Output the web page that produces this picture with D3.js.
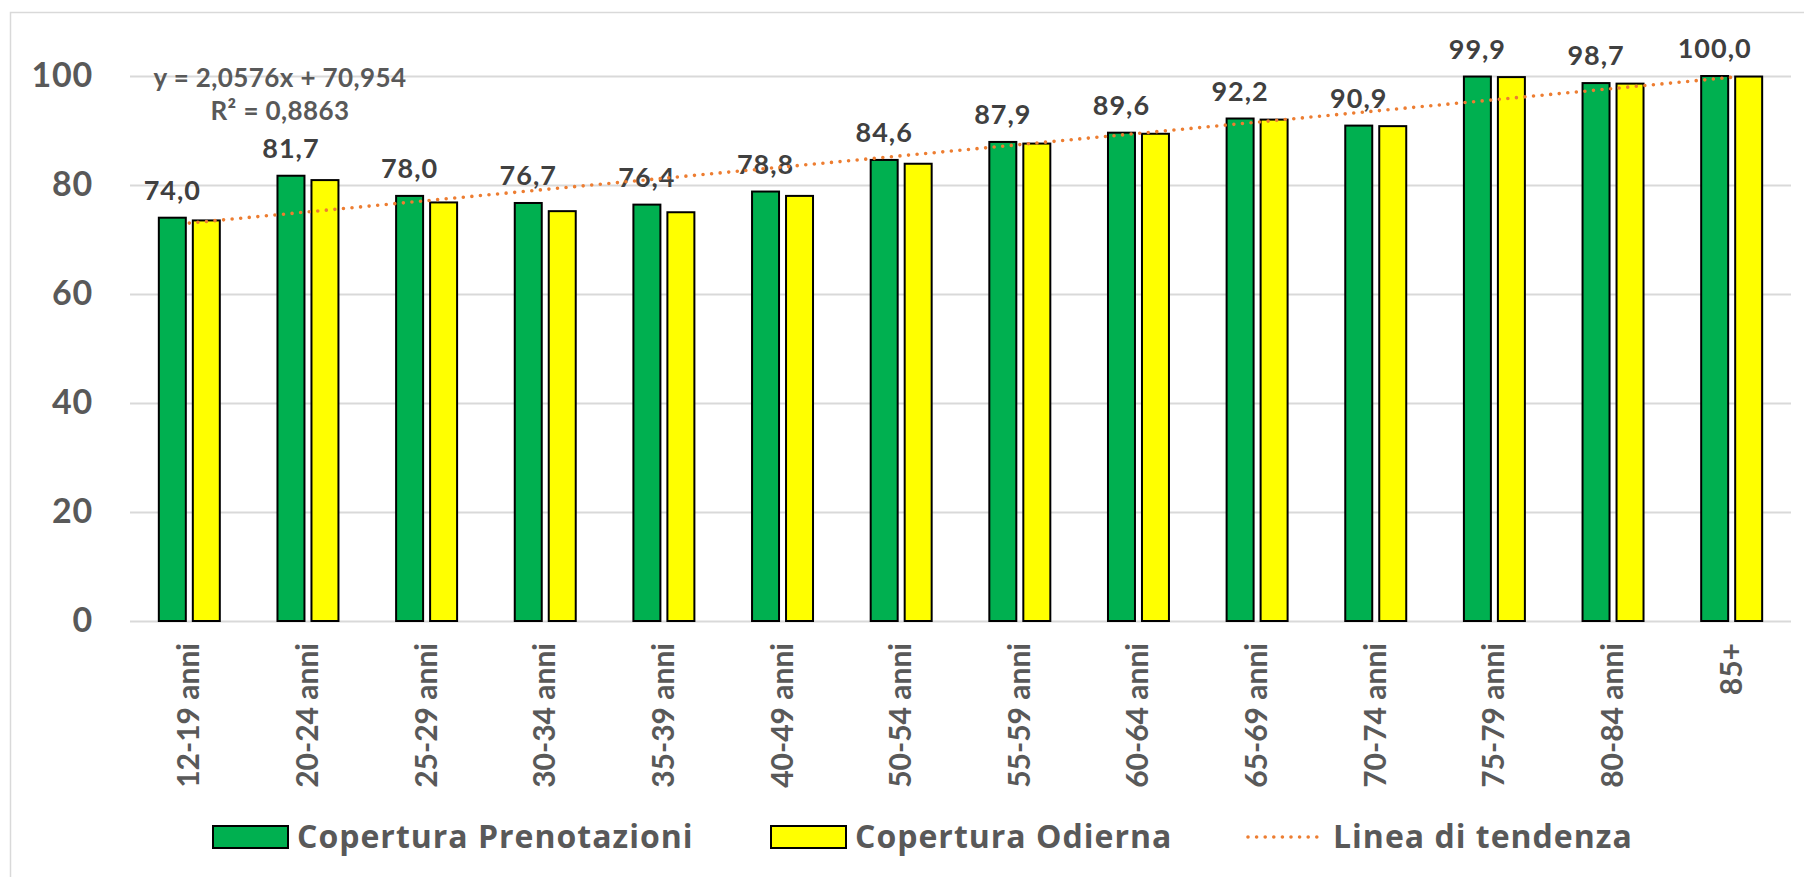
<!DOCTYPE html>
<html>
<head>
<meta charset="utf-8">
<script src="https://cdn.jsdelivr.net/npm/d3@7"></script>
<style>
  html, body { margin: 0; padding: 0; background: #fff; }
  svg { display: block; font-family: Lato, "Open Sans", sans-serif; }
</style>
</head>
<body>
<svg id="chart" width="1804" height="877"></svg>
<script>
// Age groups
const categories = ["12-19 anni", "20-24 anni", "25-29 anni", "30-34 anni", "35-39 anni",
  "40-49 anni", "50-54 anni", "55-59 anni", "60-64 anni", "65-69 anni",
  "70-74 anni", "75-79 anni", "80-84 anni", "85+"];

// Coverage (%) by age group
const prenotazioni = [74.0, 81.7, 78.0, 76.7, 76.4, 78.8, 84.6, 87.9, 89.6, 92.2, 90.9, 99.9, 98.7, 100.0];
const odierna      = [73.5, 80.9, 76.8, 75.2, 75.0, 78.0, 83.9, 87.6, 89.4, 92.0, 90.8, 99.8, 98.6, 99.9];

const seriesNames = ["Copertura Prenotazioni", "Copertura Odierna"];
const seriesColors = ["#00B050", "#FFFF00"];

// Linear trend fitted on the bookings series (x = 1..14)
const trendSlope = 2.0576;
const trendIntercept = 70.954;
const trendR2 = 0.8863;
const trendName = "Linea di tendenza";

const yTicks = [0, 20, 40, 60, 80, 100];

const fmt = v => d3.format(".1f")(v).replace(".", ",");
const fmtN = (v, d) => v.toFixed(d).replace(".", ",");

const svg = d3.select("#chart");
const plotLeft = 130, plotRight = 1791, plotTop = 76, plotBottom = 621;

// chart frame
svg.append("rect")
  .attr("x", 10.5).attr("y", 12.5)
  .attr("width", 1820).attr("height", 900)
  .attr("fill", "none").attr("stroke", "#d9d9d9").attr("stroke-width", 1.5);

const x0 = d3.scaleBand().domain(categories).range([plotLeft, plotRight])
  .paddingInner(0.486).paddingOuter(0.243);
const x1 = d3.scaleBand().domain(seriesNames).range([0, x0.bandwidth()])
  .paddingInner(0.206);
const y = d3.scaleLinear().domain([0, 100]).range([plotBottom, plotTop]);

// gridlines
svg.append("g")
  .attr("transform", `translate(${plotLeft},0)`)
  .call(d3.axisLeft(y).tickValues(yTicks).tickSize(-(plotRight - plotLeft)).tickFormat(""))
  .call(g => g.select(".domain").remove())
  .call(g => g.selectAll("line").attr("stroke", "#d9d9d9").attr("stroke-width", 2));

// y tick labels
svg.append("g")
  .attr("transform", `translate(93,0)`)
  .call(d3.axisLeft(y).tickValues(yTicks).tickSize(0).tickPadding(0))
  .call(g => g.select(".domain").remove())
  .call(g => g.selectAll("text")
    .attr("font-family", "Lato, sans-serif")
    .attr("font-size", 34).attr("font-weight", 700).attr("fill", "#595959")
    .attr("letter-spacing", 0.8));

// bars
const rows = categories.map((c, i) => ({ cat: c, values: [prenotazioni[i], odierna[i]] }));
const groups = svg.append("g").selectAll("g").data(rows).join("g")
  .attr("transform", d => `translate(${x0(d.cat)},0)`);
groups.selectAll("rect")
  .data(d => d.values.map((v, k) => ({ name: seriesNames[k], v, k })))
  .join("rect")
  .attr("x", d => x1(d.name))
  .attr("width", x1.bandwidth())
  .attr("y", d => y(d.v))
  .attr("height", d => y(0) - y(d.v))
  .attr("fill", d => seriesColors[d.k])
  .attr("stroke", "#000").attr("stroke-width", 2);

// value labels on the bookings series
svg.append("g").selectAll("text").data(rows).join("text")
  .attr("x", d => x0(d.cat) + x1(seriesNames[0]) + x1.bandwidth() / 2)
  .attr("y", d => y(d.values[0]) - 18)
  .attr("text-anchor", "middle")
  .attr("font-size", 27).attr("font-weight", 700).attr("fill", "#404040")
  .attr("letter-spacing", 1)
  .text(d => fmt(d.values[0]));

// trend line
const trendPts = categories.map((c, i) => [x0(c) + x0.bandwidth() / 2, trendIntercept + trendSlope * (i + 1)]);
svg.append("path")
  .datum(trendPts)
  .attr("d", d3.line().x(d => d[0]).y(d => y(d[1])))
  .attr("fill", "none").attr("stroke", "#ED7D31").attr("stroke-width", 3.6)
  .attr("stroke-linecap", "round").attr("stroke-dasharray", "0 8.6");

// trend equation
const eq = svg.append("text").attr("text-anchor", "middle")
  .attr("font-size", 26).attr("font-weight", 700).attr("fill", "#595959")
  .attr("letter-spacing", 0.4);
eq.append("tspan").attr("x", 280).attr("y", 87)
  .text(`y = ${fmtN(trendSlope, 4)}x + ${fmtN(trendIntercept, 3)}`);
eq.append("tspan").attr("x", 280).attr("y", 120)
  .text(`R² = ${fmtN(trendR2, 4)}`);

// x labels
svg.append("g").selectAll("text").data(categories).join("text")
  .attr("transform", d => `translate(${x0(d) + x0.bandwidth() / 2 + 10},643) rotate(-90)`)
  .attr("text-anchor", "end")
  .attr("font-size", 30).attr("font-weight", 700).attr("fill", "#595959")
  .text(d => d);

// legend
const legendItems = [
  { name: seriesNames[0], type: "rect", color: seriesColors[0], x: 213, tx: 297 },
  { name: seriesNames[1], type: "rect", color: seriesColors[1], x: 771, tx: 855 },
  { name: trendName, type: "line", color: "#ED7D31", x: 1248, tx: 1333 }
];
const lg = svg.append("g").selectAll("g").data(legendItems).join("g");
lg.filter(d => d.type === "rect").append("rect")
  .attr("x", d => d.x).attr("y", 826).attr("width", 75).attr("height", 22)
  .attr("fill", d => d.color).attr("stroke", "#000").attr("stroke-width", 2);
lg.filter(d => d.type === "line").append("line")
  .attr("x1", d => d.x).attr("x2", d => d.x + 76).attr("y1", 837).attr("y2", 837)
  .attr("stroke", d => d.color).attr("stroke-width", 3.6)
  .attr("stroke-linecap", "round").attr("stroke-dasharray", "0 8.6");
lg.append("text")
  .attr("x", d => d.tx).attr("y", 848)
  .attr("font-family", "'Open Sans', sans-serif")
  .attr("font-size", 32).attr("font-weight", 700).attr("fill", "#595959")
  .attr("letter-spacing", 1)
  .text(d => d.name);
</script>
</body>
</html>
